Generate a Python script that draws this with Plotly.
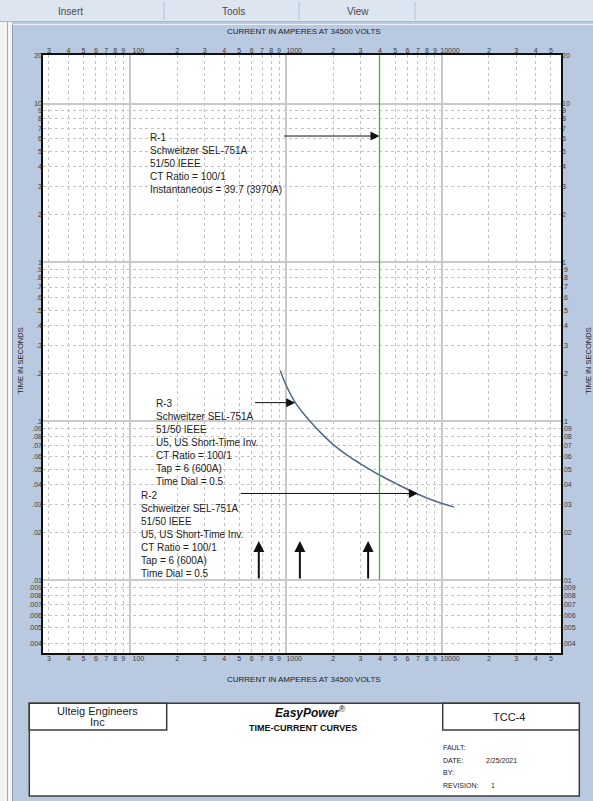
import numpy as np
import plotly.graph_objects as go

W, H = 593, 801
PL, PR, PT, PB = 43, 561, 55, 653   # plot-area edges in pixels

# ---------------- data ----------------
curve_amps = [916, 1000, 1133, 1250, 1423, 1700, 2006, 2500, 3000, 4000, 5000, 6840, 9000, 11970]
curve_secs = [0.209, 0.168, 0.133, 0.1165, 0.100, 0.083, 0.0713, 0.0605, 0.054, 0.0457, 0.0408, 0.0351, 0.0315, 0.0288]

r1_pickup_amps = [3970, 3970]
r1_time_span = [0.01, 21]

arrow_tail_amps = [947, 617, 500, 667, 1224, 3357]
arrow_tail_secs = [6.25, 0.131, 0.0351, 0.01, 0.01, 0.01]
arrow_head_amps = [3970, 1142, 7000, 667, 1224, 3357]
arrow_head_secs = [6.25, 0.131, 0.0351, 0.0176, 0.0176, 0.0176]
arrow_widths = [1, 1, 1, 2, 2, 2]

label_amps = [132.6, 142.8, 114.4]
label_secs = [6.7, 0.1415, 0.0373]
label_texts = [
    "R-1<br>Schweitzer SEL-751A<br>51/50 IEEE<br>CT Ratio = 100/1<br>Instantaneous = 39.7 (3970A)",
    "R-3<br>Schweitzer SEL-751A<br>51/50 IEEE<br>U5, US Short-Time Inv.<br>CT Ratio = 100/1<br>Tap = 6 (600A)<br>Time Dial = 0.5",
    "R-2<br>Schweitzer SEL-751A<br>51/50 IEEE<br>U5, US Short-Time Inv.<br>CT Ratio = 100/1<br>Tap = 6 (600A)<br>Time Dial = 0.5",
]

x_minor_vals = [30, 40, 50, 60, 70, 80, 90, 200, 300, 400, 500, 600, 700, 800, 900,
                2000, 3000, 4000, 5000, 6000, 7000, 8000, 9000,
                20000, 30000, 40000, 50000]
x_minor_text = ["3", "4", "5", "6", "7", "8", "9", "2", "3", "4", "5", "6", "7", "8", "9",
                "2", "3", "4", "5", "6", "7", "8", "9", "2", "3", "4", "5"]
x_decades = [100, 1000, 10000]
x_decade_text = ["100", "1000", "10000"]

y_tick_vals = [0.004, 0.005, 0.006, 0.007, 0.008, 0.009, 0.01,
               0.02, 0.03, 0.04, 0.05, 0.06, 0.07, 0.08, 0.09, 0.1,
               0.2, 0.3, 0.4, 0.5, 0.6, 0.7, 0.8, 0.9, 1,
               2, 3, 4, 5, 6, 7, 8, 9, 10, 20]
y_tick_text = [".004", ".005", ".006", ".007", ".008", ".009", ".01",
               ".02", ".03", ".04", ".05", ".06", ".07", ".08", ".09", ".1",
               ".2", ".3", ".4", ".5", ".6", ".7", ".8", ".9", "1",
               "2", "3", "4", "5", "6", "7", "8", "9", "10", "20"]
y_decades = [0.01, 0.1, 1, 10]

x_range = [1.439, 4.764]
y_range = [-2.459, 1.306]

FONT = "Arial, Liberation Sans, sans-serif"
BLUE = "#B9C9DF"
TXT = "#222222"


def px(x):
    return (x - PL) / (PR - PL)


def py(y):
    return (PB - y) / (PB - PT)


y_minor = [v for v in y_tick_vals if v not in y_decades and v != 20]

fig = go.Figure()

# curve (R-2 / R-3)
fig.add_trace(go.Scatter(x=curve_amps, y=curve_secs, mode="lines",
                         line=dict(color="#4D6A86", width=1.5, shape="spline", smoothing=1.0),
                         hoverinfo="skip", showlegend=False))
# R-1 instantaneous
fig.add_trace(go.Scatter(x=r1_pickup_amps, y=r1_time_span, mode="lines",
                         line=dict(color="#3DB83D", width=1.3),
                         hoverinfo="skip", showlegend=False))
# invisible traces so that the label axes exist
for xa, ya in [("x2", "y"), ("x3", "y"), ("x4", "y"), ("x5", "y"), ("x", "y2"), ("x", "y3")]:
    fig.add_trace(go.Scatter(x=[1000], y=[1], xaxis=xa, yaxis=ya, mode="markers",
                             marker=dict(opacity=0), hoverinfo="skip", showlegend=False))

tickfont = dict(family=FONT, size=7, color="#3A3A3A")
label_axis = dict(type="log", range=x_range, overlaying="x", anchor="y", tickfont=tickfont,
                  showgrid=False, ticks="", zeroline=False, tickangle=0)

fig.update_layout(
    width=W, height=H,
    margin=dict(l=PL, r=W - PR, t=PT, b=H - PB),
    paper_bgcolor=BLUE, plot_bgcolor="white",
    showlegend=False,
    xaxis=dict(type="log", range=x_range, tickvals=x_decades, showticklabels=False,
               ticks="", showgrid=True, gridcolor="#C9C9C9", gridwidth=1.5, zeroline=False,
               showline=True, mirror=True, linecolor="#111111", linewidth=1.5,
               minor=dict(tickvals=x_minor_vals, showgrid=True, gridcolor="#C4C4C4",
                          griddash="3px,3px", gridwidth=1, ticks="")),
    xaxis2=dict(label_axis, side="bottom", tickvals=x_minor_vals, ticktext=x_minor_text),
    xaxis3=dict(label_axis, side="top", tickvals=x_minor_vals, ticktext=x_minor_text),
    xaxis4=dict(label_axis, side="top", tickvals=x_decades, ticktext=x_decade_text, ticklabelshift=8),
    xaxis5=dict(label_axis, side="bottom", tickvals=x_decades, ticktext=x_decade_text, ticklabelshift=8),
    yaxis=dict(type="log", range=y_range, tickvals=y_decades, showticklabels=False,
               ticks="", showgrid=True, gridcolor="#C9C9C9", gridwidth=1.5, zeroline=False,
               showline=True, mirror=True, linecolor="#111111", linewidth=1.5,
               minor=dict(tickvals=y_minor, showgrid=True, gridcolor="#C4C4C4",
                          griddash="3px,3px", gridwidth=1, ticks="")),
    yaxis2=dict(type="log", range=y_range, overlaying="y", anchor="x", side="left",
                tickvals=y_tick_vals, ticktext=y_tick_text, tickfont=tickfont,
                showgrid=False, ticks="", zeroline=False),
    yaxis3=dict(type="log", range=y_range, overlaying="y", anchor="x", side="right",
                tickvals=y_tick_vals, ticktext=y_tick_text, tickfont=tickfont,
                showgrid=False, ticks="", zeroline=False),
)

# arrows
for tx, ty, hx, hy, w in zip(arrow_tail_amps, arrow_tail_secs, arrow_head_amps, arrow_head_secs, arrow_widths):
    fig.add_annotation(x=np.log10(hx), y=np.log10(hy), ax=np.log10(tx), ay=np.log10(ty),
                       xref="x", yref="y", axref="x", ayref="y", text="",
                       showarrow=True, arrowhead=2, arrowsize=1.8 if w == 1 else 1.1,
                       arrowwidth=w, arrowcolor="#111111", standoff=0, startstandoff=0)

# relay labels
for lx, ly, lt in zip(label_amps, label_secs, label_texts):
    fig.add_annotation(x=np.log10(lx), y=np.log10(ly), xref="x", yref="y", text=lt,
                       showarrow=False, xanchor="left", yanchor="top", align="left",
                       borderpad=0, font=dict(family=FONT, size=10, color=TXT))

# ---------------- frame / window chrome ----------------
shapes = []
shapes.append(dict(type="rect", xref="paper", yref="paper", x0=px(0), x1=px(W), y0=py(0), y1=py(21),
                   fillcolor="#DCE5F0", line=dict(width=0), layer="below"))
shapes.append(dict(type="line", xref="paper", yref="paper", x0=px(0), x1=px(W), y0=py(21.5), y1=py(21.5),
                   line=dict(color="#A7B9D1", width=1), layer="below"))
for sx in [164, 299, 415]:
    shapes.append(dict(type="line", xref="paper", yref="paper", x0=px(sx), x1=px(sx), y0=py(2), y1=py(20),
                       line=dict(color="#B3C2D6", width=1), layer="below"))
shapes.append(dict(type="rect", xref="paper", yref="paper", x0=px(0), x1=px(12), y0=py(22), y1=py(H),
                   fillcolor="#F3F3F3", line=dict(width=0), layer="below"))
shapes.append(dict(type="line", xref="paper", yref="paper", x0=px(7.5), x1=px(7.5), y0=py(22), y1=py(H),
                   line=dict(color="#A9A9A9", width=1), layer="below"))
shapes.append(dict(type="line", xref="paper", yref="paper", x0=px(12.5), x1=px(12.5), y0=py(24), y1=py(H),
                   line=dict(color="#8D9CB2", width=1), layer="below"))
shapes.append(dict(type="line", xref="paper", yref="paper", x0=px(12.5), x1=px(W), y0=py(24.5), y1=py(24.5),
                   line=dict(color="#E9EFF7", width=1), layer="below"))
# title block
shapes.append(dict(type="rect", xref="paper", yref="paper", x0=px(29.3), x1=px(579.3), y0=py(703.3), y1=py(796),
                   fillcolor="white", line=dict(color="#3C3C3C", width=1.5), layer="below"))
shapes.append(dict(type="rect", xref="paper", yref="paper", x0=px(29.3), x1=px(166.7), y0=py(703.3), y1=py(730),
                   fillcolor="white", line=dict(color="#3C3C3C", width=1.5), layer="below"))
shapes.append(dict(type="rect", xref="paper", yref="paper", x0=px(442.7), x1=px(579.3), y0=py(703.3), y1=py(730),
                   fillcolor="white", line=dict(color="#3C3C3C", width=1.5), layer="below"))
fig.update_layout(shapes=shapes)


def txt(x, y, s, size, anchor="center", color=TXT, angle=0):
    fig.add_annotation(x=px(x), y=py(y), xref="paper", yref="paper", text=s, showarrow=False,
                       xanchor=anchor, yanchor="middle", textangle=angle, borderpad=0,
                       font=dict(family=FONT, size=size, color=color))


txt(70, 11, "Insert", 10, color="#4A4A4A")
txt(233, 11, "Tools", 10, color="#4A4A4A")
txt(358, 11, "View", 10, color="#4A4A4A")
txt(304, 31.5, "CURRENT IN AMPERES AT 34500 VOLTS", 8)
txt(304, 679, "CURRENT IN AMPERES AT 34500 VOLTS", 8)
txt(20, 361, "TIME IN SECONDS", 7.5, angle=-90)
txt(588, 361, "TIME IN SECONDS", 7.5, angle=-90)

txt(97.5, 711, "Ulteig Engineers", 11)
txt(97.5, 721.7, "Inc", 11)
txt(310, 712, "<b><i>EasyPower</i></b><sup>®</sup>", 12, color="#111111")
txt(303, 728.3, "<b>TIME-CURRENT CURVES</b>", 9, color="#111111")
txt(509, 717, "TCC-4", 11)
txt(442, 747.7, "FAULT:", 7, anchor="left")
txt(442, 760.7, "DATE:", 7, anchor="left")
txt(485, 760.7, "2/25/2021", 7, anchor="left")
txt(442, 772.3, "BY:", 7, anchor="left")
txt(442, 785.7, "REVISION:", 7, anchor="left")
txt(489.5, 785.7, "1", 7, anchor="left")

fig.write_html("out.html", config={"displayModeBar": False},
               post_script="document.body.style.margin='0';document.body.style.padding='0';")
